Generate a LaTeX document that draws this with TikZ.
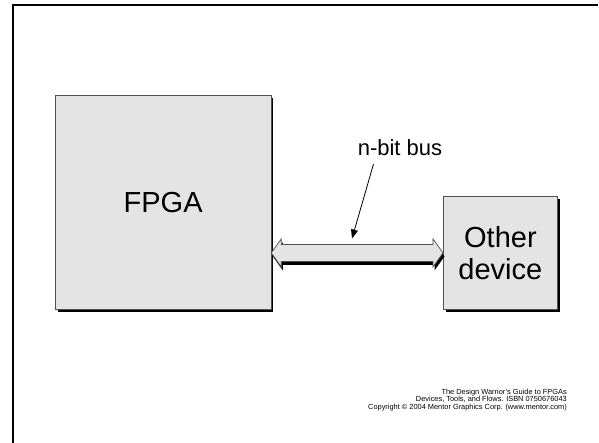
\documentclass[tikz,border=0pt]{standalone}
\usepackage{fontspec}
\setmainfont{Liberation Sans}
\usetikzlibrary{arrows.meta,shadows,calc}
\definecolor{boxgray}{HTML}{E4E4E4}
\definecolor{edgegray}{HTML}{505050}
\tikzset{
  blockbox/.style={draw=edgegray, line width=0.8pt, fill=boxgray, inner sep=0pt,
    drop shadow={shadow xshift=2.5pt, shadow yshift=-2.5pt, fill=black, opacity=1},
    font=\fontsize{29}{32}\selectfont, align=center},
  footer/.style={font=\fontsize{7.4}{7.4}\selectfont, anchor=base east, inner sep=0pt},
  pointer/.style={line width=0.8pt, -{Triangle[length=9pt,width=7pt]}},
  busfill/.style={fill=boxgray, draw=edgegray, line width=0.7pt, line join=miter}
}
\begin{document}
\begin{tikzpicture}[x=1pt,y=-1pt]
\useasboundingbox (0,0) rectangle (599,442);
% slide frame
\draw[line width=2pt, line cap=butt] (12.5,443) -- (12.5,4.5) -- (598,4.5);
% blocks
\node[blockbox, minimum width=215.5pt, minimum height=214pt, anchor=north west] (fpga) at (55,95) {FPGA};
\node[blockbox, minimum width=114pt, minimum height=113pt, anchor=north west] (dev) at (443,196) {Other\\device};
% bus
\coordinate (bl) at ($(fpga.east)!0!(dev.west)$);
\coordinate (br) at (dev.west);
\coordinate (bl) at (fpga.east |- br);
\fill[black] ($(bl)+(1.5,3.5)$) -- ++(10,-14) -- ++(0,5.5) -- ($(br)+(1.5,3.5)+(-10,-8.5)$) -- ++(0,-5.5) -- ($(br)+(1.5,3.5)$) -- ++(-10,14) -- ++(0,-5.5) -- ($(bl)+(1.5,3.5)+(10,8.5)$) -- ++(0,5.5) -- cycle;
\draw[busfill] (bl) -- ++(10,-14) -- ++(0,5.5) -- ($(br)+(-10,-8.5)$) -- ++(0,-5.5) -- (br) -- ++(-10,14) -- ++(0,-5.5) -- ($(bl)+(10,8.5)$) -- ++(0,5.5) -- cycle;
% label
\node[font=\fontsize{22}{22}\selectfont, anchor=base, inner sep=0pt] (lbl) at (400,155) {n-bit bus};
\coordinate (ptrStart) at (373.5,164);
\coordinate (ptrEnd) at (352,238.5);
\draw[pointer] (ptrStart) -- (ptrEnd);
% footer
\node[footer] (f1) at (567,394.5) {The Design Warrior's Guide to FPGAs};
\node[footer] (f2) at (567,401.8) {Devices, Tools, and Flows. ISBN 0750676043};
\node[footer] (f3) at (567,409.1) {Copyright © 2004 Mentor Graphics Corp. (www.mentor.com)};
\end{tikzpicture}
\end{document}
